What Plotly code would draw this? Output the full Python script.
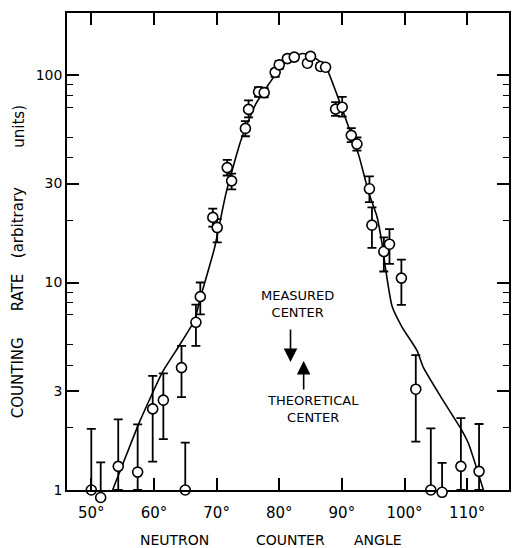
import math
import plotly.graph_objects as go

# ---- data ----
angle = [50.0, 51.5, 54.3, 57.4, 59.8, 61.5, 64.4, 65.0, 66.7, 67.4,
         69.4, 70.1, 71.7, 72.4, 74.6, 75.1, 76.7, 77.6, 79.35, 80.0,
         81.3, 82.4, 84.5, 85.0, 86.6, 87.4, 89.0, 90.05, 91.5, 92.4,
         94.4, 94.8, 96.7, 97.6, 99.5, 101.8, 104.2, 106.0, 109.0, 111.9]
rate = [1.00, 0.92, 1.30, 1.22, 2.46, 2.71, 3.89, 1.00, 6.43, 8.55,
        20.6, 18.4, 35.8, 30.9, 55.3, 68.3, 83.0, 82.3, 103, 112,
        120, 122, 114, 123, 110, 109, 68.5, 70.0, 51.2, 46.5,
        28.3, 18.9, 14.1, 15.3, 10.5, 3.06, 1.00, 0.975, 1.30, 1.23]
err_hi = [1.97, 1.36, 2.19, 2.07, 3.55, 3.65, 4.95, 1.69, 7.83, 10.0,
          22.7, 20.2, 39.0, 33.5, 60.0, 75.5, 87.5, 86.5, 107, 117,
          124, 126, 118, 127, 114, 113, 74.0, 78.4, 55.5, 50.0,
          32.5, 23.0, 16.5, 18.1, 12.9, 4.47, 1.98, 1.35, 2.22, 2.08]
err_lo = [1.00, 0.92, 1.00, 1.00, 1.37, 1.76, 2.80, 1.00, 4.95, 7.02,
          18.6, 15.6, 32.8, 28.1, 50.7, 62.5, 78.5, 78.0, 98, 107,
          116, 118, 110, 119, 106, 105, 63.5, 63.0, 47.5, 43.2,
          24.4, 14.7, 11.3, 12.3, 7.8, 1.71, 1.00, 0.975, 1.00, 1.00]

curve_angle = [53.4, 55.5, 57.7, 61.4, 64.1, 66.5, 67.3, 69.65, 71.5, 73.9,
               76.2, 78.4, 81.0, 83.7, 85.5, 87.4, 89.25, 91.0, 92.7, 94.3,
               95.6, 96.4, 97.0, 98.0, 99.6, 102.0, 103.0, 106.0, 109.1, 110.2, 112.6]
curve_rate = [1.0, 1.45, 2.13, 3.72, 5.0, 6.6, 8.2, 14.6, 26.9, 48.6,
              72, 91, 116, 127, 122, 110, 80, 57, 41, 27,
              20.8, 15.5, 11.5, 7.7, 6.1, 4.7, 3.9, 2.75, 1.95, 1.68, 1.0]

x_ticks = [50, 60, 70, 80, 90, 100, 110]
x_ticktext = ["50°", "60°", "70°", "80°", "90°", "100°", "110°"]
y_ticks = [1, 3, 10, 30, 100]
y_ticktext = ["1", "3", "10", "30", "100"]
y_minor = [2, 4, 5, 7, 8, 9, 20, 40, 50, 70, 80, 90]

measured_center = 81.8
theoretical_center = 83.9
arrow_tip_rate = [4.14, 4.19]   # level of the arrow tips (measured, theoretical)

FONT = "DejaVu Sans"

# geometry (pixels)
W, H = 513, 548
L, R, T, B = 67, 511, 13, 490      # plot frame
BX = 500                            # bottom of the extended (hidden) axis area
LOG_TOP = 2.299
PX_PER_DEC = (B - T) / LOG_TOP
EXT = (BX - B) / PX_PER_DEC


def split(idx):
    xs = [angle[i] for i in idx]
    ys = [rate[i] for i in idx]
    p = [err_hi[i] - rate[i] for i in idx]
    m = [rate[i] - err_lo[i] for i in idx]
    return xs, ys, p, m


inside = [i for i, r in enumerate(rate) if r >= 1]
below = [i for i, r in enumerate(rate) if r < 1]

marker = dict(symbol="circle", size=10, color="white", line=dict(color="black", width=1.6))

fig = go.Figure()
fig.add_trace(go.Scatter(
    x=curve_angle, y=curve_rate, mode="lines", xaxis="x", yaxis="y",
    line=dict(color="black", width=1.6, shape="spline", smoothing=0.5),
    hoverinfo="skip", showlegend=False))
for idx, yax in [(inside, "y"), (below, "y2")]:
    xs, ys, p, m = split(idx)
    fig.add_trace(go.Scatter(
        x=xs, y=ys, mode="markers", cliponaxis=False, xaxis="x", yaxis=yax,
        marker=marker,
        error_y=dict(type="data", symmetric=False, array=p, arrayminus=m,
                     color="black", thickness=1.8, width=4.5),
        showlegend=False))

fig.update_layout(
    xaxis=dict(
        range=[46.12, 116.68], tickmode="array", tickvals=x_ticks, ticktext=x_ticktext,
        ticks="inside", ticklen=12, tickwidth=1.5, tickcolor="black",
        showline=True, linecolor="black", linewidth=1.6, mirror="ticks",
        showgrid=False, zeroline=False, anchor="y",
        tickfont=dict(family=FONT, size=15, color="black"), ticklabelstandoff=8),
    yaxis=dict(
        type="log", range=[0, LOG_TOP], domain=[(BX - B) / (BX - T), 1],
        tickmode="array", tickvals=y_ticks, ticktext=y_ticktext,
        ticks="inside", ticklen=12, tickwidth=1.5, tickcolor="black",
        minor=dict(tickmode="array", tickvals=y_minor, ticks="inside", ticklen=6,
                   tickwidth=1.2, tickcolor="black", showgrid=False),
        showline=True, linecolor="black", linewidth=1.6, mirror="ticks",
        showgrid=False, zeroline=False, anchor="x",
        tickfont=dict(family=FONT, size=14, color="black")),
    yaxis2=dict(
        type="log", range=[-EXT, LOG_TOP], domain=[0, 1], anchor="x",
        visible=False, showgrid=False, zeroline=False),
)


def px(x):
    return (x - L) / (R - L)


def py(y):
    return (BX - y) / (BX - T)


ann = []
for txt, x, y in [("NEUTRON", 175, 540), ("COUNTER", 291.7, 540), ("ANGLE", 379, 540)]:
    ann.append(dict(text=txt, x=px(x), y=py(y), xref="paper", yref="paper",
                    showarrow=False, font=dict(family=FONT, size=14, color="black"),
                    xanchor="center", yanchor="middle"))
for txt, x, y in [("COUNTING", 18, 378), ("RATE", 18, 292), ("(arbitrary", 18, 223), ("units)", 18, 126.5)]:
    ann.append(dict(text=txt, x=px(x), y=py(y), xref="paper", yref="paper",
                    showarrow=False, textangle=-90, font=dict(family=FONT, size=15, color="black"),
                    xanchor="center", yanchor="middle"))
for txt, x, y in [("MEASURED<br>CENTER", 299, 304), ("THEORETICAL<br>CENTER", 314, 409.3)]:
    ann.append(dict(text=txt, x=px(x), y=py(y), xref="paper", yref="paper",
                    showarrow=False, font=dict(family=FONT, size=13, color="black"),
                    xanchor="center", yanchor="middle", align="center"))

# annotation y on a log axis is given as log10 of the value
for xc, tip, ay in [(measured_center, arrow_tip_rate[0], -34),
                    (theoretical_center, arrow_tip_rate[1], 30)]:
    ann.append(dict(x=xc, y=math.log10(tip), xref="x", yref="y", text="",
                    showarrow=True, arrowhead=2, arrowsize=1.7, arrowwidth=1.6,
                    arrowcolor="black", ax=0, ay=ay, axref="pixel", ayref="pixel"))

fig.update_layout(
    width=W, height=H,
    margin=dict(l=L, r=W - R, t=T, b=H - BX),
    paper_bgcolor="white", plot_bgcolor="rgba(0,0,0,0)",
    annotations=ann, showlegend=False)

fig.write_html("out.html")
